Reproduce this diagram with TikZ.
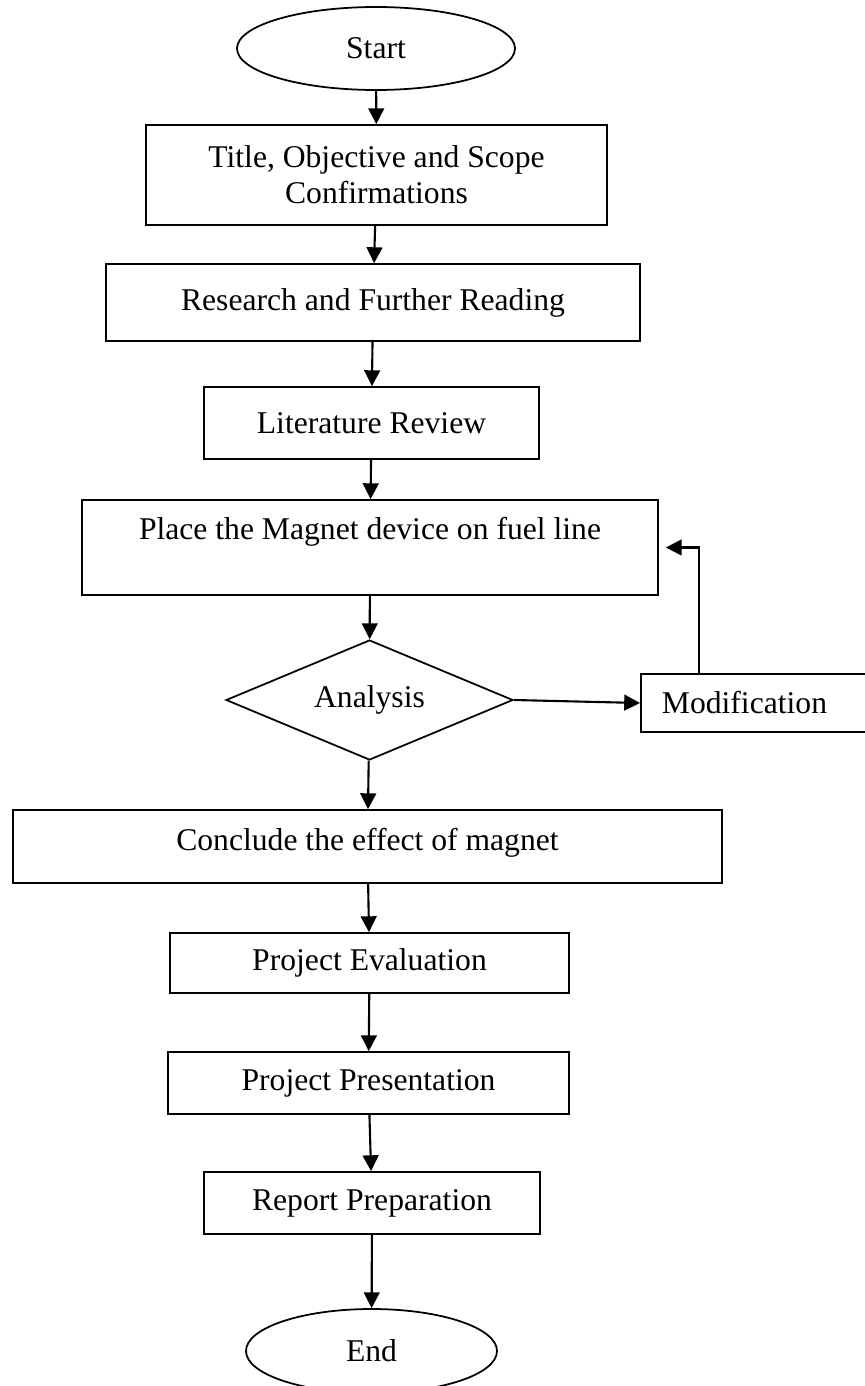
\documentclass[tikz,border=0pt]{standalone}
\usepackage{fontspec}
\setmainfont{Liberation Serif}
\usetikzlibrary{positioning}
\usetikzlibrary{shapes.geometric, arrows.meta}

\begin{document}
\begin{tikzpicture}[
  box/.style={draw, line width=1pt, inner sep=0pt, align=center},
  term/.style={draw, ellipse, line width=1pt, inner sep=0pt},
  decide/.style={draw, diamond, line width=1pt, inner sep=0pt, shape aspect=2.4},
  arr/.style={line width=1.2pt, -{Triangle[length=9pt,width=9pt]}},
  font=\fontsize{18}{20.5}\selectfont
]
\useasboundingbox (0,0) rectangle (17.28,-27.72);

% start and end
\node[term, minimum width=5.56cm, minimum height=1.66cm] (start) at (7.52,-0.97) {Start};
\node[term, minimum width=5.02cm, minimum height=1.68cm] (finish) at (7.43,-27.02) {End};

% draw the process boxes
\node[box, minimum width=9.22cm, minimum height=2.00cm] (confirm) at (7.53,-3.50)
      {Title, Objective and Scope\\Confirmations};
\node[box, minimum width=10.68cm, minimum height=1.54cm] (research) at (7.46,-6.05)
      {Research and Further Reading};
\node[box, minimum width=6.70cm, minimum height=1.44cm] (litrev) at (7.43,-8.46)
      {Literature Review};
\node[box, minimum width=11.52cm, minimum height=1.90cm, text height=13pt,
      text depth=22pt] (place) at (7.40,-10.95) {Place the Magnet device on fuel line};
\node[decide, minimum width=5.74cm, minimum height=2.40cm] (analysis) at (7.39,-14.00)
      {Analysis};
\node[box, anchor=west, align=left, text width=4cm, inner xsep=0.42cm,
      minimum height=1.16cm] (modif) at (12.80,-14.06) {Modification};
\node[box, minimum width=14.18cm, minimum height=1.46cm, text height=13pt,
      text depth=9pt] (conclude) at (7.35,-16.93) {Conclude the effect of magnet};
\node[box, minimum width=7.98cm, minimum height=1.20cm] (evaluation) at (7.39,-19.26)
      {Project Evaluation};
\node[box, minimum width=8.02cm, minimum height=1.24cm] (presentation) at (7.37,-21.66)
      {Project Presentation};
\node[box, minimum width=6.72cm, minimum height=1.24cm] (report) at (7.44,-24.06)
      {Report Preparation};

% draw the arrows down the chart
\foreach \a/\b in {start/confirm, confirm/research, research/litrev, litrev/place,
    place/analysis, analysis/conclude, conclude/evaluation,
    evaluation/presentation, presentation/report, report/finish}
\draw[arr] (\a) -- (\b);

% loop back through modification
\draw[arr] (analysis.east) -- (modif.west);
\draw[arr, shorten >=0.14cm] ([xshift=1.18cm]modif.north west) |- (place.east);
\end{tikzpicture}
\end{document}
